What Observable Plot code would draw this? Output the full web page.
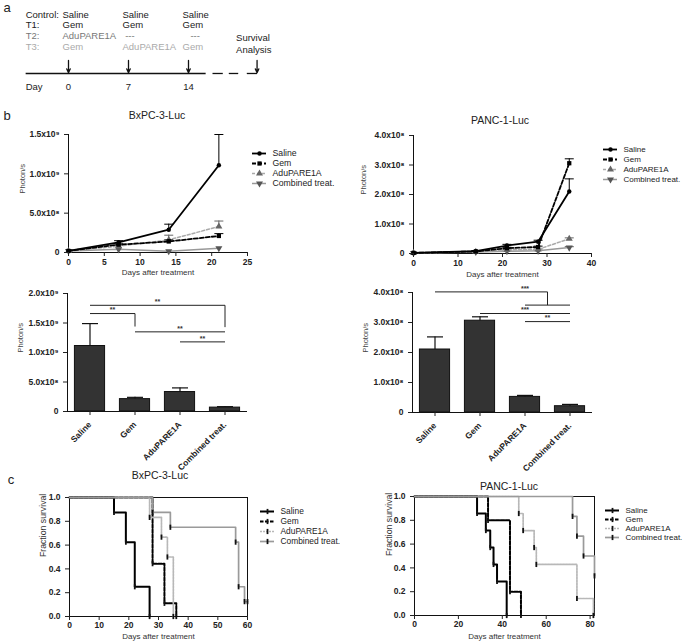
<!DOCTYPE html>
<html><head><meta charset="utf-8">
<script src="https://cdn.jsdelivr.net/npm/d3@7"></script>
<script src="https://cdn.jsdelivr.net/npm/@observablehq/plot@0.6"></script>
<style>
body{margin:0;background:#fff;}
#fig{position:relative;width:685px;height:644px;overflow:hidden;font-family:"Liberation Sans",Arial,sans-serif;color:#222;background:#fff;}
#fig svg{max-width:none !important;}
.abs{position:absolute;line-height:0;}
.txt{position:absolute;transform:translate(-50%,-50%);white-space:nowrap;line-height:1;color:#222;}
</style></head><body><div id="fig"></div>
<script>
// ---------------- DATA ----------------
const seriesNames = ["Saline", "Gem", "AduPARE1A", "Combined treat."];

// panel a: treatment schedule
const scheduleGroups = ["Control:", "T1:", "T2:", "T3:"];
const scheduleDays = [0, 7, 14];
const scheduleDay0 = ["Saline", "Gem", "AduPARE1A", "Gem"];
const scheduleDay7 = ["Saline", "Gem", "\u00a0---", "AduPARE1A"];
const scheduleDay14 = ["Saline", "Gem", "\u00a0\u00a0\u00a0---", "Gem"];
const dayTickLabels = ["0", "7", "14"];
const dayLabel = "Day";
const survivalLabel = "Survival\nAnalysis";
const survivalMarkPos = 22;            // schematic position of the survival arrow
const timelineSegments = [{from: -5, to: 16}, {from: 16.8, to: 18}, {from: 18.7, to: 19.8}, {from: 20.8, to: 22}];

// panel b: tumour growth curves (photon/s)
const bxpcDays = [0, 7, 14, 21];
const bxpcLineSaline = [0.02e9, 0.13e9, 0.29e9, 1.11e9];
const bxpcLineGem = [0.02e9, 0.10e9, 0.14e9, 0.21e9];
const bxpcLineAdu = [0.02e9, 0.08e9, 0.16e9, 0.33e9];
const bxpcLineComb = [0.02e9, 0.04e9, 0.017e9, 0.055e9];
const bxpcLineSalineErr = [0, 0.02e9, 0.07e9, 0.39e9];
const bxpcLineGemErr = [0, 0.01e9, 0.02e9, 0.03e9];
const bxpcLineAduErr = [0, 0.01e9, 0.06e9, 0.07e9];
const bxpcLineCombErr = [0, 0, 0, 0];

const pancDays = [0, 14, 21, 28, 35];
const pancLineSaline = [0.02e8, 0.08e8, 0.27e8, 0.40e8, 2.10e8];
const pancLineGem = [0.02e8, 0.07e8, 0.18e8, 0.22e8, 3.06e8];
const pancLineAdu = [0.02e8, 0.06e8, 0.12e8, 0.14e8, 0.50e8];
const pancLineComb = [0.02e8, 0.05e8, 0.08e8, 0.09e8, 0.20e8];
const pancLineSalineErr = [0, 0.02e8, 0.04e8, 0.05e8, 0.43e8];
const pancLineGemErr = [0, 0.01e8, 0.03e8, 0.03e8, 0.15e8];
const pancLineAduErr = [0, 0, 0.02e8, 0.02e8, 0.03e8];
const pancLineCombErr = [0, 0, 0.02e8, 0.02e8, 0.03e8];

// panel b: final bars
const bxpcBarValues = [1.11e9, 0.21e9, 0.33e9, 0.066e9];
const bxpcBarErrs = [0.38e9, 0.03e9, 0.07e9, 0.016e9];
const pancBarValues = [2.10e8, 3.06e8, 0.52e8, 0.21e8];
const pancBarErrs = [0.42e8, 0.13e8, 0.05e8, 0.06e8];
// significance brackets (group indices, bracket height)
const bxpcBrackets = [
  {from: 0, to: 3, y: 1.80e9, dropAt: 3, dropTo: 1.43e9, label: "**"},
  {from: 0, to: 1, y: 1.66e9, dropAt: 1, dropTo: 1.44e9, label: "**"},
  {from: 1, to: 3, y: 1.35e9, label: "**"},
  {from: 2, to: 3, y: 1.18e9, label: "**"}
];
const pancBrackets = [
  {from: 0, to: 2.5, y: 4.02e8, dropAt: 2.5, dropTo: 3.58e8, subFrom: 2, subTo: 3, label: "***", labelAt: 2},
  {from: 1, to: 3, y: 3.30e8, label: "***"},
  {from: 2, to: 3, y: 3.03e8, label: "**"}
];

// tick values / labels
const bxpcLineXTicks = [0, 5, 10, 15, 20, 25];
const bxpcLineYTicks = [0, 5e8, 1e9, 1.5e9];
const bxpcLineYLabels = ["0", "5.0x10\u2078", "1.0x10\u2079", "1.5x10\u2079"];
const pancLineXTicks = [0, 10, 20, 30, 40];
const pancYTicks = [0, 1e8, 2e8, 3e8, 4e8];
const pancYLabels = ["0", "1.0x10\u2078", "2.0x10\u2078", "3.0x10\u2078", "4.0x10\u2078"];
const bxpcBarYTicks = [0, 5e8, 1e9, 1.5e9, 2e9];
const bxpcBarYLabels = ["0", "5.0x10\u2078", "1.0x10\u2079", "1.5x10\u2079", "2.0x10\u2079"];
const survYTicks = [0, 0.2, 0.4, 0.6, 0.8, 1.0];
const survYLabels = ["0.0", "0.2", "0.4", "0.6", "0.8", "1.0"];
const bxpcSurvXTicks = [0, 10, 20, 30, 40, 50, 60];
const pancSurvXTicks = [0, 20, 40, 60, 80];

// panel c: Kaplan-Meier steps (day, fraction surviving)
const bxpcSurvSalineT = [0, 15, 19, 22, 27];
const bxpcSurvSalineS = [1, 0.875, 0.625, 0.25, 0];
const bxpcSurvGemT = [0, 28, 32, 36];
const bxpcSurvGemS = [1, 0.444, 0.111, 0];
const bxpcSurvAduT = [0, 27, 31, 33, 35];
const bxpcSurvAduS = [1, 0.833, 0.667, 0.5, 0];
const bxpcSurvCombT = [0, 28, 34, 56, 57, 59, 60];
const bxpcSurvCombS = [1, 0.875, 0.75, 0.625, 0.25, 0.125, 0.125];

const pancSurvSalineT = [0, 28.5, 32.5, 34.5, 36, 37.6, 42];
const pancSurvSalineS = [1, 0.857, 0.714, 0.571, 0.429, 0.286, 0];
const pancSurvGemT = [0, 33.5, 43.5, 48.5];
const pancSurvGemS = [1, 0.8, 0.2, 0];
const pancSurvAduT = [0, 47.5, 49.5, 54.5, 55.5, 74, 81.5];
const pancSurvAduS = [1, 0.857, 0.714, 0.571, 0.429, 0.143, 0];
const pancSurvCombT = [0, 72, 74, 77, 82];
const pancSurvCombS = [1, 0.833, 0.667, 0.5, 0.333];

// ---------------- STYLES ----------------
const FONT = '"Liberation Sans", Arial, sans-serif';
const baseStyle = {fontFamily: FONT, fontSize: "8.5px", color: "#222", background: "transparent", overflow: "visible"};
const lineStyles = [
  {stroke: "#000", dash: null, width: 1.8, symbol: "circle", r: 2.2, rotate: 0, mark: "#000"},
  {stroke: "#000", dash: "4,2", width: 1.8, symbol: "square", r: 2.4, rotate: 0, mark: "#000"},
  {stroke: "#aaa", dash: "3,2", width: 1.5, symbol: "triangle", r: 2.6, rotate: 0, mark: "#666"},
  {stroke: "#999", dash: null, width: 1.5, symbol: "triangle", r: 2.6, rotate: 180, mark: "#555"}
];
const survStyles = [
  {stroke: "#000", dash: null, width: 2},
  {stroke: "#000", dash: "3.5,1.5", width: 2},
  {stroke: "#b8b8b8", dash: "2,1", width: 1.7},
  {stroke: "#9a9a9a", dash: null, width: 1.7}
];
const rowColors = ["#222", "#222", "#777", "#aaa"];
const hbar = {draw(ctx, size) { const r = Math.sqrt(size / Math.PI); ctx.moveTo(-r, 0); ctx.lineTo(r, 0); }};
const vbar = {draw(ctx, size) { const r = Math.sqrt(size / Math.PI); ctx.rect(-0.9, -r, 1.8, 2 * r); }};

const fig = document.getElementById("fig");
function place(node, left, top) {
  const d = document.createElement("div");
  d.className = "abs"; d.style.left = left + "px"; d.style.top = top + "px";
  d.style.width = (node.getAttribute("width") || 300) + "px";
  d.appendChild(node); fig.appendChild(d);
}
function label(text, cx, cy, size, extra) {
  const d = document.createElement("div");
  d.className = "txt"; d.textContent = text;
  d.style.left = cx + "px"; d.style.top = cy + "px"; d.style.fontSize = size + "px";
  if (extra) Object.assign(d.style, extra);
  fig.appendChild(d);
}
const fmt = (ticks, labels) => d => labels[ticks.findIndex(t => Math.abs(t - d) < 1e-9 * Math.max(1, Math.abs(t)))];

// ---------------- PANEL A ----------------
{
  const colTexts = [scheduleDay0, scheduleDay7, scheduleDay14];
  const cells = scheduleDays.flatMap((day, j) => colTexts[j].map((t, i) => ({day, row: i, text: t})));
  const p = Plot.plot({
    width: 330, height: 100, style: {...baseStyle, fontSize: "9.5px"},
    x: {domain: [0, 14], range: [68, 188], axis: null},
    y: {domain: [0, 3], range: [14, 46], axis: null},
    marks: [
      Plot.text(scheduleGroups, {x: -5, y: (d, i) => i, text: d => d, textAnchor: "start", fill: (d, i) => rowColors[i]}),
      Plot.text(cells, {x: "day", y: "row", text: "text", textAnchor: "start", dx: -6, fill: d => rowColors[d.row]}),
      Plot.text([survivalLabel], {x: survivalMarkPos, y: 2.72, dx: -21, text: d => d, textAnchor: "start", lineHeight: 1.2, fill: "#222"}),
      Plot.link(timelineSegments, {x1: "from", x2: "to", y1: 5.53, y2: 5.53, stroke: "#111", strokeWidth: 1.3}),
      Plot.arrow([...scheduleDays, survivalMarkPos], {x1: d => d, x2: d => d, y1: 4.31, y2: 5.45, stroke: "#111", strokeWidth: 1.3, headLength: 5, headAngle: 50}),
      Plot.text(scheduleDays, {x: d => d, y: 6.75, text: (d, i) => dayTickLabels[i], fill: "#222"}),
      Plot.text([dayLabel], {x: -5, y: 6.75, text: d => d, textAnchor: "start", fill: "#222"})
    ]
  });
  place(p, 0, 0);
}

// ---------------- PANEL B: LINE CHARTS ----------------
function linePlot(cfg) {
  const rows = seriesNames.map((name, si) => cfg.days.map((day, i) => ({name, day, value: cfg.values[si][i], err: cfg.errs[si][i]})));
  const marks = [
    Plot.ruleY([0], {stroke: "#111"}),
    Plot.ruleX([0], {stroke: "#111"})
  ];
  for (let si = seriesNames.length - 1; si >= 0; si--) {
    const s = lineStyles[si];
    const withErr = rows[si].filter(d => d.err > 0);
    marks.push(
      Plot.ruleX(withErr, {x: "day", y1: "value", y2: d => d.value + d.err, stroke: s.mark, strokeWidth: 1}),
      Plot.dot(withErr, {x: "day", y: d => d.value + d.err, symbol: hbar, r: 4.5, stroke: s.mark, fill: "none", strokeWidth: 1}),
      Plot.line(rows[si], {x: "day", y: "value", stroke: s.stroke, strokeWidth: s.width, strokeDasharray: s.dash}),
      Plot.dot(rows[si], {x: "day", y: "value", symbol: s.symbol, r: s.r, rotate: s.rotate, fill: s.mark, stroke: "none"})
    );
  }
  marks.push(
    Plot.axisX({ticks: cfg.xTicks, tickSize: 4, tickPadding: 2, fontWeight: "bold", label: null}),
    Plot.axisY({ticks: cfg.yTicks, tickFormat: fmt(cfg.yTicks, cfg.yLabels), tickSize: 4, fontWeight: "bold", label: null}),
    Plot.text(["Photon/s"], {frameAnchor: "left", rotate: -90, dx: cfg.ylabelDx, text: d => d, fontSize: 7.5, fill: "#444"}),
    Plot.text(["Days after treatment"], {frameAnchor: "bottom", dy: cfg.xlabelDy, text: d => d, fontSize: 8, fill: "#333"})
  );
  return Plot.plot({
    width: cfg.width, height: cfg.height, style: baseStyle,
    marginLeft: cfg.ml, marginRight: cfg.mr, marginTop: cfg.mt, marginBottom: cfg.mb,
    x: {domain: cfg.xDomain}, y: {domain: cfg.yDomain},
    marks
  });
}

function legendPlot(styles, kind, spacing, fontSize) {
  const marks = [];
  seriesNames.forEach((name, si) => {
    const s = styles[si];
    marks.push(Plot.ruleY([name], {y: d => d, x1: 0, x2: 1, stroke: s.stroke, strokeWidth: s.width, strokeDasharray: s.dash}));
    if (kind === "line") marks.push(Plot.dot([name], {y: d => d, x: 0.5, symbol: s.symbol, r: s.r, rotate: s.rotate, fill: s.mark, stroke: "none"}));
    else marks.push(Plot.dot([name], {y: d => d, x: 0.5, symbol: vbar, r: 2.6, fill: "#111", stroke: "none"}));
  });
  marks.push(Plot.text(seriesNames, {y: d => d, x: 1, dx: 6, text: d => d, textAnchor: "start", fontSize, fill: "#222"}));
  return Plot.plot({
    width: 100, height: 3 * spacing + 12, style: baseStyle, margin: 0,
    x: {domain: [0, 1], range: [0, 14], axis: null},
    y: {type: "point", domain: seriesNames, range: [6, 6 + 3 * spacing], axis: null},
    marks
  });
}

place(linePlot({
  days: bxpcDays,
  values: [bxpcLineSaline, bxpcLineGem, bxpcLineAdu, bxpcLineComb],
  errs: [bxpcLineSalineErr, bxpcLineGemErr, bxpcLineAduErr, bxpcLineCombErr],
  xTicks: bxpcLineXTicks, yTicks: bxpcLineYTicks, yLabels: bxpcLineYLabels,
  xDomain: [0, 25], yDomain: [0, 1.5e9],
  width: 260, height: 185, ml: 68, mr: 13, mt: 34, mb: 33, ylabelDx: -46, xlabelDy: 22
}), 0, 100);
place(linePlot({
  days: pancDays,
  values: [pancLineSaline, pancLineGem, pancLineAdu, pancLineComb],
  errs: [pancLineSalineErr, pancLineGemErr, pancLineAduErr, pancLineCombErr],
  xTicks: pancLineXTicks, yTicks: pancYTicks, yLabels: pancYLabels,
  xDomain: [0, 40], yDomain: [0, 4e8],
  width: 260, height: 185, ml: 73, mr: 9, mt: 35, mb: 32, ylabelDx: -50, xlabelDy: 23
}), 340, 100);
place(legendPlot(lineStyles, "line", 14.3, 8.7), 252, 141);
place(legendPlot(lineStyles, "line", 13.7, 8), 603, 137);

// ---------------- PANEL B: BAR CHARTS ----------------
function barPlot(cfg) {
  const bars = seriesNames.map((name, i) => ({name, i, value: cfg.values[i], top: cfg.values[i] + cfg.errs[i]}));
  const segs = cfg.brackets.flatMap(b => {
    const out = [{x1: b.from, x2: b.to, y1: b.y, y2: b.y}];
    if (b.dropAt !== undefined) out.push({x1: b.dropAt, x2: b.dropAt, y1: b.y, y2: b.dropTo});
    if (b.subFrom !== undefined) out.push({x1: b.subFrom, x2: b.subTo, y1: b.dropTo, y2: b.dropTo});
    return out;
  });
  return Plot.plot({
    width: 260, height: 210, style: baseStyle,
    marginLeft: cfg.ml, marginRight: 260 - cfg.ml - 180, marginTop: cfg.mt, marginBottom: cfg.mb,
    x: {type: "linear", domain: [-0.5, 3.5]}, y: {domain: cfg.yDomain},
    marks: [
      Plot.rectY(bars, {x1: d => d.i - 0.335, x2: d => d.i + 0.335, y: "value", fill: "#333", stroke: "#111", strokeWidth: 1}),
      Plot.ruleX(bars, {x: "i", y1: "value", y2: "top", stroke: "#111", strokeWidth: 1.2}),
      Plot.dot(bars, {x: "i", y: "top", symbol: hbar, r: 8, stroke: "#111", fill: "none", strokeWidth: 1.2}),
      Plot.ruleX([-0.5], {stroke: "#111"}),
      Plot.ruleY([0], {stroke: "#111"}),
      Plot.link(segs, {x1: "x1", x2: "x2", y1: "y1", y2: "y2", stroke: "#222", strokeWidth: 1}),
      Plot.text(cfg.brackets, {x: b => b.labelAt ?? (b.from + b.to) / 2, y: "y", text: "label", dy: -3.5, fontSize: 7, fontWeight: "bold", fill: "#333"}),
      Plot.axisX({ticks: [0, 1, 2, 3], tickFormat: i => seriesNames[i], tickRotate: -45, tickSize: 4, fontWeight: "bold", label: null}),
      Plot.axisY({ticks: cfg.yTicks, tickFormat: fmt(cfg.yTicks, cfg.yLabels), tickSize: 4, fontWeight: "bold", label: null}),
      Plot.text(["Photon/s"], {frameAnchor: "left", rotate: -90, dx: cfg.ylabelDx, text: d => d, fontSize: 7.5, fill: "#444"})
    ]
  });
}
place(barPlot({values: bxpcBarValues, errs: bxpcBarErrs, brackets: bxpcBrackets, yDomain: [0, 2e9],
  yTicks: bxpcBarYTicks, yLabels: bxpcBarYLabels, ml: 67, mt: 23, mb: 69, ylabelDx: -47}), 0, 270);
place(barPlot({values: pancBarValues, errs: pancBarErrs, brackets: pancBrackets, yDomain: [0, 4e8],
  yTicks: pancYTicks, yLabels: pancYLabels, ml: 72, mt: 22, mb: 68, ylabelDx: -47}), 340, 270);

// ---------------- PANEL C: SURVIVAL ----------------
function survPlot(cfg) {
  const marks = [Plot.frame({stroke: "#111", strokeWidth: 1})];
  seriesNames.forEach((name, si) => {
    const s = survStyles[si];
    const rows = cfg.t[si].map((t, i) => ({t, s: cfg.s[si][i], i}));
    marks.push(Plot.line(rows, {x: "t", y: "s", curve: "step-after", stroke: s.stroke, strokeWidth: s.width, strokeDasharray: s.dash}));
  });
  seriesNames.forEach((name, si) => {
    const rows = cfg.t[si].map((t, i) => ({t, s: cfg.s[si][i], i})).filter(d => d.i > 0);
    marks.push(Plot.dot(rows, {x: "t", y: "s", symbol: vbar, r: 2.6, fill: "#111", stroke: "none"}));
  });
  marks.push(
    Plot.axisX({ticks: cfg.xTicks, tickSize: 4, tickPadding: 1, fontWeight: "bold", label: null}),
    Plot.axisY({ticks: survYTicks, tickFormat: fmt(survYTicks, survYLabels), tickSize: 4, fontWeight: "bold", label: null}),
    Plot.text(["Fraction survival"], {frameAnchor: "left", rotate: -90, dx: cfg.ylabelDx, text: d => d, fontSize: 8.7, fill: "#333"}),
    Plot.text(["Days after treatment"], {frameAnchor: "bottom", dy: cfg.xlabelDy, text: d => d, fontSize: 8, fill: "#333"})
  );
  return Plot.plot({
    width: 260, height: 164, style: baseStyle,
    marginLeft: cfg.ml, marginRight: cfg.mr, marginTop: cfg.mt, marginBottom: cfg.mb,
    x: {domain: cfg.xDomain}, y: {domain: [0, 1]},
    marks
  });
}
place(survPlot({
  t: [bxpcSurvSalineT, bxpcSurvGemT, bxpcSurvAduT, bxpcSurvCombT],
  s: [bxpcSurvSalineS, bxpcSurvGemS, bxpcSurvAduS, bxpcSurvCombS],
  xTicks: bxpcSurvXTicks, xDomain: [0, 60],
  ml: 69, mr: 13, mt: 17, mb: 28, ylabelDx: -26, xlabelDy: 22
}), 0, 480);
place(survPlot({
  t: [pancSurvSalineT, pancSurvGemT, pancSurvAduT, pancSurvCombT],
  s: [pancSurvSalineS, pancSurvGemS, pancSurvAduS, pancSurvCombS],
  xTicks: pancSurvXTicks, xDomain: [0, 82],
  ml: 74, mr: 6, mt: 16, mb: 29, ylabelDx: -25, xlabelDy: 23
}), 340, 480);
place(legendPlot(survStyles, "surv", 13.7, 8.4), 260, 499);
place(legendPlot(survStyles, "surv", 13.3, 8), 605, 498);

// ---------------- LETTERS & TITLES ----------------
label("a", 7, 7, 13);
label("b", 7, 115, 13);
label("c", 11, 479, 13);
label("BxPC-3-Luc", 157, 115, 10.5);
label("PANC-1-Luc", 500, 120, 10.5);
label("BxPC-3-Luc", 160, 475, 10.5);
label("PANC-1-Luc", 509, 486, 10.5);
</script></body></html>
